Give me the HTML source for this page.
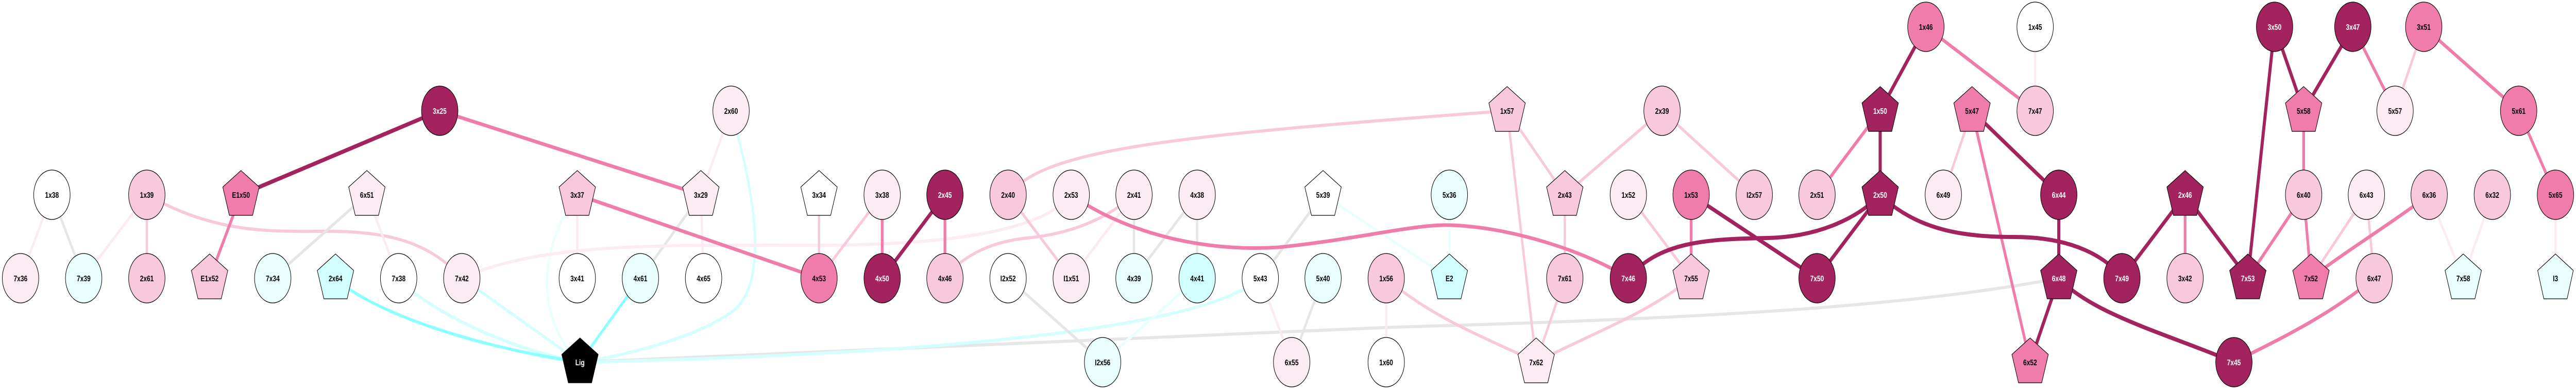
<!DOCTYPE html>
<html><head><meta charset="utf-8"><style>
html,body{margin:0;padding:0;background:#fff;width:100%;height:100%;overflow:hidden;}
svg{display:block;width:100vw;height:100vh;}
text{font-family:"Liberation Sans",sans-serif;font-size:16px;font-weight:bold;text-anchor:middle;}
.w{fill:#fff;} .b{fill:#000;}
.n{stroke:#000;stroke-width:1.3;}
.eD{stroke:#A2235E;stroke-width:8;fill:none;}
.eM{stroke:#F07CAB;stroke-width:7;fill:none;}
.eL{stroke:#F8C8DC;stroke-width:6;fill:none;}
.eV{stroke:#FBEBF2;stroke-width:6;fill:none;}
.eG{stroke:#E6E6E6;stroke-width:6;fill:none;}
.eC{stroke:#8CFFFF;stroke-width:6;fill:none;}
.eC2{stroke:#D3FFFE;stroke-width:6;fill:none;}
.eC3{stroke:#EAFFFE;stroke-width:6;fill:none;}
.D{fill:#A2235E;} .M{fill:#F07CAB;} .L{fill:#F8C8DC;} .V{fill:#FBEBF2;} .W{fill:#fff;} .C1{fill:#E8FFFD;} .C2{fill:#D2FFFE;} .K{fill:#000;}
</style></head><body>
<svg viewBox="0 0 6649 757" preserveAspectRatio="none" xmlns="http://www.w3.org/2000/svg">
<g>
<line class="eV" x1="134" y1="378" x2="53" y2="540"/>
<line class="eG" x1="134" y1="378" x2="216" y2="540"/>
<line class="eV" x1="379" y1="378" x2="216" y2="540"/>
<line class="eL" x1="379" y1="378" x2="379" y2="540"/>
<path class="eL" d="M379,378 C560,455 700,449 850,449 C1000,449 1110,470 1192,540"/>
<line class="eG" x1="947" y1="378" x2="704" y2="540"/>
<line class="eV" x1="947" y1="378" x2="1029" y2="540"/>
<path class="eC2" d="M1029,540 C1100,600 1300,675 1497,703"/>
<line class="eC2" x1="1192" y1="540" x2="1497" y2="703"/>
<path class="eC3" d="M1490,378 C1390,480 1380,620 1497,703"/>
<line class="eV" x1="1490" y1="378" x2="1490" y2="540"/>
<line class="eV" x1="1887" y1="215" x2="1809" y2="378"/>
<path class="eC2" d="M1887,215 C1950,380 1990,560 1880,610 C1790,655 1620,690 1497,703"/>
<line class="eG" x1="1809" y1="378" x2="1653" y2="540"/>
<line class="eV" x1="1809" y1="378" x2="1816" y2="540"/>
<path class="eV" d="M1192,540 C1400,470 1700,476 2100,476 C2500,476 2700,440 2765,378"/>
<path class="eG" d="M1497,703 C2300,680 3000,650 3600,635 C4300,620 4900,600 5314,540"/>
<path class="eC2" d="M1497,703 C2400,688 3100,640 3253,540"/>
<line class="eL" x1="2114" y1="378" x2="2114" y2="540"/>
<line class="eL" x1="2114" y1="540" x2="2277" y2="378"/>
<path class="eL" d="M2602,378 C2700,290 3000,265 3890,215"/>
<line class="eL" x1="2602" y1="378" x2="2765" y2="540"/>
<path class="eL" d="M2927,378 C2850,430 2750,455 2650,462 C2550,470 2480,500 2439,540"/>
<line class="eV" x1="2927" y1="378" x2="2765" y2="540"/>
<line class="eG" x1="2927" y1="378" x2="2927" y2="540"/>
<line class="eG" x1="3090" y1="378" x2="2927" y2="540"/>
<line class="eG" x1="3090" y1="378" x2="3090" y2="540"/>
<line class="eG" x1="2602" y1="540" x2="2846" y2="703"/>
<line class="eC3" x1="3090" y1="540" x2="2846" y2="703"/>
<line class="eV" x1="3253" y1="540" x2="3334" y2="703"/>
<line class="eG" x1="3253" y1="540" x2="3415" y2="378"/>
<line class="eC3" x1="3415" y1="378" x2="3741" y2="540"/>
<line class="eC3" x1="3741" y1="378" x2="3741" y2="540"/>
<line class="eG" x1="3415" y1="540" x2="3334" y2="703"/>
<line class="eV" x1="3578" y1="540" x2="3578" y2="703"/>
<path class="eL" d="M3578,540 C3700,620 3850,660 3965,703"/>
<line class="eL" x1="3890" y1="215" x2="3965" y2="703"/>
<line class="eL" x1="3890" y1="215" x2="4039" y2="378"/>
<line class="eL" x1="4290" y1="215" x2="4039" y2="378"/>
<line class="eL" x1="4290" y1="215" x2="4528" y2="378"/>
<line class="eL" x1="4039" y1="378" x2="4039" y2="540"/>
<line class="eL" x1="4039" y1="540" x2="3965" y2="703"/>
<line class="eL" x1="4203" y1="378" x2="4365" y2="540"/>
<path class="eL" d="M4365,540 C4250,610 4100,650 3965,703"/>
<line class="eV" x1="5253" y1="52" x2="5253" y2="215"/>
<line class="eL" x1="5090" y1="215" x2="5016" y2="378"/>
<line class="eL" x1="6256" y1="52" x2="6182" y2="215"/>
<line class="eL" x1="6108" y1="378" x2="5965" y2="540"/>
<line class="eL" x1="6108" y1="378" x2="6128" y2="540"/>
<line class="eV" x1="6270" y1="378" x2="6358" y2="540"/>
<line class="eV" x1="6433" y1="378" x2="6358" y2="540"/>
<line class="eV" x1="6596" y1="378" x2="6596" y2="540"/>
<path class="eC" d="M866,540 C950,600 1200,670 1497,703"/>
<line class="eC" x1="1653" y1="540" x2="1497" y2="703"/>
<line class="eM" x1="622" y1="378" x2="541" y2="540"/>
<line class="eM" x1="1135" y1="215" x2="1809" y2="378"/>
<line class="eM" x1="1490" y1="378" x2="2114" y2="540"/>
<line class="eM" x1="2277" y1="378" x2="2277" y2="540"/>
<line class="eM" x1="2439" y1="378" x2="2439" y2="540"/>
<path class="eM" d="M2765,378 C2900,450 3100,490 3300,480 C3500,465 3650,435 3741,437 C3900,440 4100,490 4203,540"/>
<line class="eM" x1="4365" y1="378" x2="4365" y2="540"/>
<line class="eM" x1="4971" y1="52" x2="5253" y2="215"/>
<line class="eM" x1="4853" y1="215" x2="4690" y2="378"/>
<line class="eM" x1="5090" y1="215" x2="5240" y2="703"/>
<line class="eM" x1="6073" y1="52" x2="6182" y2="215"/>
<line class="eM" x1="6256" y1="52" x2="6501" y2="215"/>
<line class="eM" x1="6501" y1="215" x2="6596" y2="378"/>
<line class="eM" x1="5946" y1="215" x2="5946" y2="378"/>
<line class="eM" x1="5640" y1="378" x2="5640" y2="540"/>
<line class="eM" x1="5946" y1="378" x2="5802" y2="540"/>
<line class="eM" x1="5946" y1="378" x2="5965" y2="540"/>
<path class="eM" d="M6270,378 C6160,440 6050,490 5965,540"/>
<path class="eM" d="M6128,540 C6000,620 5850,670 5766,703"/>
<line class="eD" x1="622" y1="378" x2="1135" y2="215"/>
<line class="eD" x1="2439" y1="378" x2="2277" y2="540"/>
<line class="eD" x1="4365" y1="378" x2="4690" y2="540"/>
<path class="eD" d="M4203,540 C4280,470 4400,464 4560,462 C4700,460 4800,420 4853,378"/>
<path class="eD" d="M4853,378 C4950,450 5080,460 5200,460 C5350,460 5440,500 5477,540"/>
<line class="eD" x1="4971" y1="52" x2="4853" y2="215"/>
<line class="eD" x1="4853" y1="215" x2="4853" y2="378"/>
<line class="eD" x1="4853" y1="378" x2="4690" y2="540"/>
<line class="eD" x1="5090" y1="215" x2="5314" y2="378"/>
<line class="eD" x1="5314" y1="378" x2="5314" y2="540"/>
<line class="eD" x1="5314" y1="540" x2="5240" y2="703"/>
<path class="eD" d="M5314,540 C5400,610 5600,650 5766,703"/>
<line class="eD" x1="5477" y1="540" x2="5640" y2="378"/>
<line class="eD" x1="5640" y1="378" x2="5802" y2="540"/>
<line class="eD" x1="5871" y1="52" x2="5946" y2="215"/>
<line class="eD" x1="5871" y1="52" x2="5802" y2="540"/>
<line class="eD" x1="6073" y1="52" x2="5946" y2="215"/>
</g>
<g class="n">
<ellipse class="W" cx="134" cy="378" rx="47" ry="48"/>
<ellipse class="L" cx="379" cy="378" rx="47" ry="48"/>
<polygon class="M" points="622,331 669,363 652,418 592,418 575,363"/>
<polygon class="V" points="947,331 994,363 977,418 917,418 900,363"/>
<ellipse class="V" cx="53" cy="540" rx="47" ry="48"/>
<ellipse class="C1" cx="216" cy="540" rx="47" ry="48"/>
<ellipse class="L" cx="379" cy="540" rx="47" ry="48"/>
<polygon class="L" points="541,493 588,525 571,580 511,580 494,525"/>
<ellipse class="C1" cx="704" cy="540" rx="47" ry="48"/>
<polygon class="C2" points="866,493 913,525 896,580 836,580 819,525"/>
<ellipse class="W" cx="1029" cy="540" rx="47" ry="48"/>
<ellipse class="D" cx="1135" cy="215" rx="47" ry="48"/>
<ellipse class="V" cx="1887" cy="215" rx="47" ry="48"/>
<polygon class="L" points="1490,331 1537,363 1520,418 1460,418 1443,363"/>
<polygon class="V" points="1809,331 1856,363 1839,418 1779,418 1762,363"/>
<polygon class="W" points="2114,331 2161,363 2144,418 2084,418 2067,363"/>
<ellipse class="V" cx="1192" cy="540" rx="47" ry="48"/>
<ellipse class="W" cx="1490" cy="540" rx="47" ry="48"/>
<ellipse class="C1" cx="1653" cy="540" rx="47" ry="48"/>
<ellipse class="W" cx="1816" cy="540" rx="47" ry="48"/>
<ellipse class="M" cx="2114" cy="540" rx="47" ry="48"/>
<polygon class="K" points="1497,656 1544,688 1527,743 1467,743 1450,688"/>
<ellipse class="V" cx="2277" cy="378" rx="47" ry="48"/>
<ellipse class="D" cx="2439" cy="378" rx="47" ry="48"/>
<ellipse class="L" cx="2602" cy="378" rx="47" ry="48"/>
<ellipse class="V" cx="2765" cy="378" rx="47" ry="48"/>
<ellipse class="V" cx="2927" cy="378" rx="47" ry="48"/>
<ellipse class="V" cx="3090" cy="378" rx="47" ry="48"/>
<ellipse class="D" cx="2277" cy="540" rx="47" ry="48"/>
<ellipse class="L" cx="2439" cy="540" rx="47" ry="48"/>
<ellipse class="W" cx="2602" cy="540" rx="47" ry="48"/>
<ellipse class="V" cx="2765" cy="540" rx="47" ry="48"/>
<ellipse class="C1" cx="2927" cy="540" rx="47" ry="48"/>
<ellipse class="C2" cx="3090" cy="540" rx="47" ry="48"/>
<ellipse class="W" cx="3253" cy="540" rx="47" ry="48"/>
<ellipse class="C1" cx="2846" cy="703" rx="47" ry="48"/>
<ellipse class="V" cx="3334" cy="703" rx="47" ry="48"/>
<polygon class="L" points="3890,168 3937,200 3920,255 3860,255 3843,200"/>
<ellipse class="L" cx="4290" cy="215" rx="47" ry="48"/>
<polygon class="W" points="3415,331 3462,363 3445,418 3385,418 3368,363"/>
<ellipse class="C1" cx="3741" cy="378" rx="47" ry="48"/>
<polygon class="L" points="4039,331 4086,363 4069,418 4009,418 3992,363"/>
<ellipse class="V" cx="4203" cy="378" rx="47" ry="48"/>
<ellipse class="M" cx="4365" cy="378" rx="47" ry="48"/>
<ellipse class="C1" cx="3415" cy="540" rx="47" ry="48"/>
<ellipse class="L" cx="3578" cy="540" rx="47" ry="48"/>
<polygon class="C2" points="3741,493 3788,525 3771,580 3711,580 3694,525"/>
<ellipse class="L" cx="4039" cy="540" rx="47" ry="48"/>
<ellipse class="D" cx="4203" cy="540" rx="47" ry="48"/>
<polygon class="L" points="4365,493 4412,525 4395,580 4335,580 4318,525"/>
<ellipse class="W" cx="3578" cy="703" rx="47" ry="48"/>
<polygon class="V" points="3965,656 4012,688 3995,743 3935,743 3918,688"/>
<ellipse class="M" cx="4971" cy="52" rx="47" ry="48"/>
<ellipse class="W" cx="5253" cy="52" rx="47" ry="48"/>
<polygon class="D" points="4853,168 4900,200 4883,255 4823,255 4806,200"/>
<polygon class="M" points="5090,168 5137,200 5120,255 5060,255 5043,200"/>
<ellipse class="L" cx="5253" cy="215" rx="47" ry="48"/>
<ellipse class="L" cx="4528" cy="378" rx="47" ry="48"/>
<ellipse class="L" cx="4690" cy="378" rx="47" ry="48"/>
<polygon class="D" points="4853,331 4900,363 4883,418 4823,418 4806,363"/>
<ellipse class="V" cx="5016" cy="378" rx="47" ry="48"/>
<ellipse class="D" cx="5314" cy="378" rx="47" ry="48"/>
<ellipse class="D" cx="4690" cy="540" rx="47" ry="48"/>
<polygon class="D" points="5314,493 5361,525 5344,580 5284,580 5267,525"/>
<ellipse class="D" cx="5477" cy="540" rx="47" ry="48"/>
<polygon class="M" points="5240,656 5287,688 5270,743 5210,743 5193,688"/>
<ellipse class="D" cx="5871" cy="52" rx="47" ry="48"/>
<ellipse class="D" cx="6073" cy="52" rx="47" ry="48"/>
<ellipse class="M" cx="6256" cy="52" rx="47" ry="48"/>
<polygon class="M" points="5946,168 5993,200 5976,255 5916,255 5899,200"/>
<ellipse class="V" cx="6182" cy="215" rx="47" ry="48"/>
<ellipse class="M" cx="6501" cy="215" rx="47" ry="48"/>
<polygon class="D" points="5640,331 5687,363 5670,418 5610,418 5593,363"/>
<ellipse class="L" cx="5946" cy="378" rx="47" ry="48"/>
<ellipse class="V" cx="6108" cy="378" rx="47" ry="48"/>
<ellipse class="L" cx="6270" cy="378" rx="47" ry="48"/>
<ellipse class="L" cx="6433" cy="378" rx="47" ry="48"/>
<ellipse class="M" cx="6596" cy="378" rx="47" ry="48"/>
<ellipse class="L" cx="5640" cy="540" rx="47" ry="48"/>
<polygon class="D" points="5802,493 5849,525 5832,580 5772,580 5755,525"/>
<polygon class="M" points="5965,493 6012,525 5995,580 5935,580 5918,525"/>
<ellipse class="L" cx="6128" cy="540" rx="47" ry="48"/>
<polygon class="C1" points="6358,493 6405,525 6388,580 6328,580 6311,525"/>
<polygon class="C1" points="6596,493 6642,525 6626,580 6566,580 6550,525"/>
<ellipse class="D" cx="5766" cy="703" rx="47" ry="48"/>
</g>
<g class="b">
<text x="134" y="384">1x38</text>
<text x="379" y="384">1x39</text>
<text x="622" y="384">E1x50</text>
<text x="947" y="384">6x51</text>
<text x="53" y="546">7x36</text>
<text x="216" y="546">7x39</text>
<text x="379" y="546">2x61</text>
<text x="541" y="546">E1x52</text>
<text x="704" y="546">7x34</text>
<text x="866" y="546">2x64</text>
<text x="1029" y="546">7x38</text>
<text x="1887" y="221">2x60</text>
<text x="1490" y="384">3x37</text>
<text x="1809" y="384">3x29</text>
<text x="2114" y="384">3x34</text>
<text x="1192" y="546">7x42</text>
<text x="1490" y="546">3x41</text>
<text x="1653" y="546">4x61</text>
<text x="1816" y="546">4x65</text>
<text x="2114" y="546">4x53</text>
<text x="2277" y="384">3x38</text>
<text x="2602" y="384">2x40</text>
<text x="2765" y="384">2x53</text>
<text x="2927" y="384">2x41</text>
<text x="3090" y="384">4x38</text>
<text x="2439" y="546">4x46</text>
<text x="2602" y="546">I2x52</text>
<text x="2765" y="546">I1x51</text>
<text x="2927" y="546">4x39</text>
<text x="3090" y="546">4x41</text>
<text x="3253" y="546">5x43</text>
<text x="2846" y="709">I2x56</text>
<text x="3334" y="709">6x55</text>
<text x="3890" y="221">1x57</text>
<text x="4290" y="221">2x39</text>
<text x="3415" y="384">5x39</text>
<text x="3741" y="384">5x36</text>
<text x="4039" y="384">2x43</text>
<text x="4203" y="384">1x52</text>
<text x="4365" y="384">1x53</text>
<text x="3415" y="546">5x40</text>
<text x="3578" y="546">1x56</text>
<text x="3741" y="546">E2</text>
<text x="4039" y="546">7x61</text>
<text x="4365" y="546">7x55</text>
<text x="3578" y="709">1x60</text>
<text x="3965" y="709">7x62</text>
<text x="4971" y="58">1x46</text>
<text x="5253" y="58">1x45</text>
<text x="5090" y="221">5x47</text>
<text x="5253" y="221">7x47</text>
<text x="4528" y="384">I2x57</text>
<text x="4690" y="384">2x51</text>
<text x="5016" y="384">6x49</text>
<text x="5240" y="709">6x52</text>
<text x="6256" y="58">3x51</text>
<text x="5946" y="221">5x58</text>
<text x="6182" y="221">5x57</text>
<text x="6501" y="221">5x61</text>
<text x="5946" y="384">6x40</text>
<text x="6108" y="384">6x43</text>
<text x="6270" y="384">6x36</text>
<text x="6433" y="384">6x32</text>
<text x="6596" y="384">5x65</text>
<text x="5640" y="546">3x42</text>
<text x="5965" y="546">7x52</text>
<text x="6128" y="546">6x47</text>
<text x="6358" y="546">7x58</text>
<text x="6596" y="546">I3</text>
</g>
<g class="w">
<text x="1135" y="221">3x25</text>
<text x="1497" y="709">Lig</text>
<text x="2439" y="384">2x45</text>
<text x="2277" y="546">4x50</text>
<text x="4203" y="546">7x46</text>
<text x="4853" y="221">1x50</text>
<text x="4853" y="384">2x50</text>
<text x="5314" y="384">6x44</text>
<text x="4690" y="546">7x50</text>
<text x="5314" y="546">6x48</text>
<text x="5477" y="546">7x49</text>
<text x="5871" y="58">3x50</text>
<text x="6073" y="58">3x47</text>
<text x="5640" y="384">2x46</text>
<text x="5802" y="546">7x53</text>
<text x="5766" y="709">7x45</text>
</g>
</svg>
</body></html>
